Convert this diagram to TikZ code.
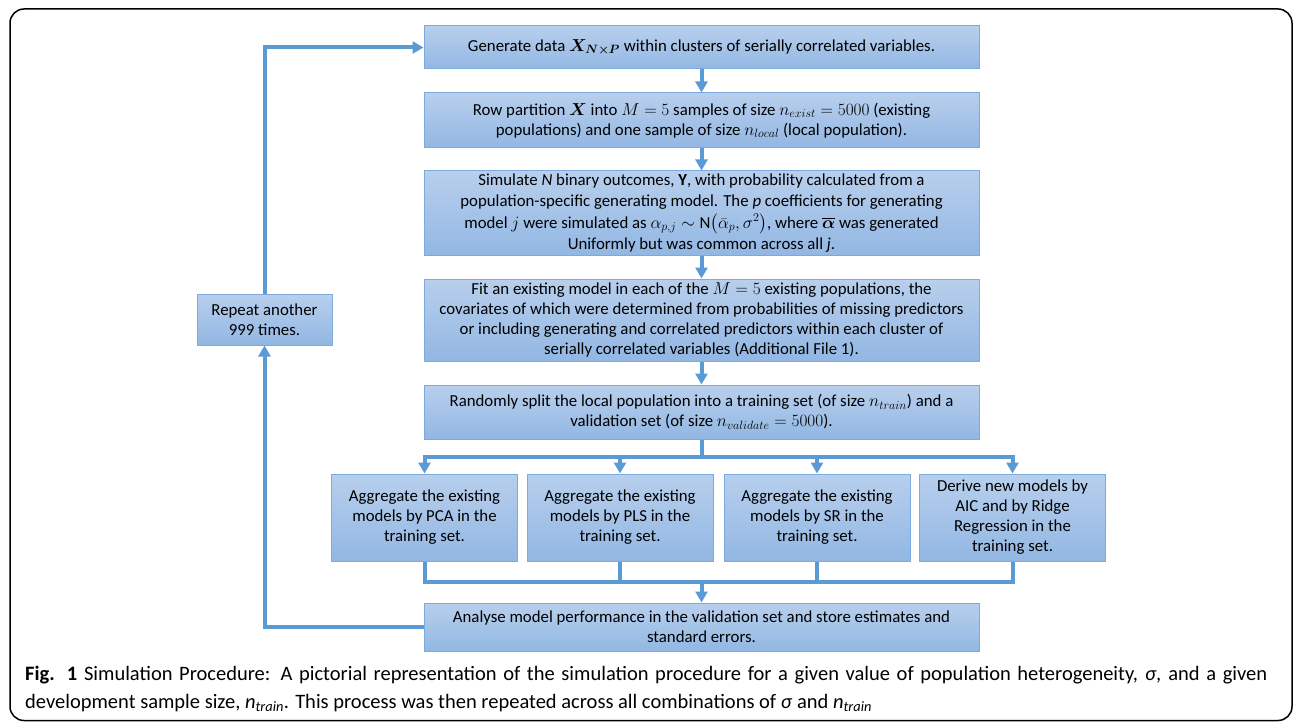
\documentclass[tikz,border=0pt]{standalone}
\usepackage{amsmath}
\usepackage{amssymb}
\usepackage{bm}
\usepackage{fontspec}
\setmainfont{Carlito}
\usetikzlibrary{arrows.meta}
\definecolor{simblue}{RGB}{91,155,213}
\definecolor{simtop}{RGB}{184,207,237}
\definecolor{simbottom}{RGB}{146,183,227}
\definecolor{simedge}{RGB}{125,170,222}

\begin{document}
\begin{tikzpicture}[x=1pt, y=-1pt,
  stepbox/.style={draw=simedge, line width=1pt, top color=simtop, bottom color=simbottom,
    align=center, inner sep=0pt, font=\fontsize{16.8}{20}\selectfont},
  flow/.style={line width=4pt, draw=simblue},
  flowarrow/.style={-{Triangle[width=12pt,length=11pt]}}]
\useasboundingbox (0,0) rectangle (1295,722);

% Frame
\draw[line width=1.5pt, rounded corners=14pt] (10,9) rectangle (1292,720.5);

% Main column
\node[stepbox, minimum width=555pt, minimum height=43pt] (gen) at (701.5,47.5) {Generate data $\bm{X}_{\bm{N\times P}}$ within clusters of serially correlated variables.};
\node[stepbox, minimum width=555pt, minimum height=55pt] (part) at (701.5,120.5) {Row partition $\bm{X}$ into $M=5$ samples of size $n_{exist}=5000$ (existing\\ populations) and one sample of size $n_{local}$ (local population).};
\node[stepbox, minimum width=555pt, minimum height=84pt, font=\fontsize{16.8}{21.5}\selectfont] (sim) at (701.5,213) {Simulate \textit{N} binary outcomes, \textbf{Y}, with probability calculated from a\\ population-specific generating model. The \textit{p} coefficients for generating\\ model $j$ were simulated as $\alpha_{p,j}\sim\mathrm{N}\bigl(\bar{\alpha}_p,\sigma^2\bigr)$, where $\overline{\bm{\alpha}}$ was generated\\ Uniformly but was common across all \textit{j}.};
\node[stepbox, minimum width=555pt, minimum height=82pt] (fit) at (701.5,320) {Fit an existing model in each of the $M=5$ existing populations, the\\ covariates of which were determined from probabilities of missing predictors\\ or including generating and correlated predictors within each cluster of\\ serially correlated variables (Additional File 1).};
\node[stepbox, minimum width=555pt, minimum height=54pt] (split) at (701.5,412) {Randomly split the local population into a training set (of size $n_{train}$) and a\\ validation set (of size $n_{validate}=5000$).};

% Four methods
\node[stepbox, minimum width=186pt, minimum height=87pt] (pca) at (424.5,517.5) {Aggregate the existing\\ models by PCA in the\\ training set.};
\node[stepbox, minimum width=186pt, minimum height=87pt] (pls) at (620,517.5) {Aggregate the existing\\ models by PLS in the\\ training set.};
\node[stepbox, minimum width=186pt, minimum height=87pt] (sr) at (817,517.5) {Aggregate the existing\\ models by SR in the\\ training set.};
\node[stepbox, minimum width=186pt, minimum height=87pt] (derive) at (1012.5,517.5) {Derive new models by\\ AIC and by Ridge\\ Regression in the\\ training set.};

\node[stepbox, minimum width=555pt, minimum height=48pt] (analyse) at (701.5,627) {Analyse model performance in the validation set and store estimates and\\ standard errors.};

% Loop box
\node[stepbox, minimum width=135pt, minimum height=51pt] (repeat) at (264.5,319.5) {Repeat another\\ 999 times.};

% Arrows
\draw[flow, flowarrow] (gen) -- (part);
\draw[flow, flowarrow] (part) -- (sim);
\draw[flow, flowarrow] (sim) -- (fit);
\draw[flow, flowarrow] (fit) -- (split);

\coordinate (branch) at (701.5,457);
\coordinate (merge) at (701.5,582);
\draw[flow] (split) -- (branch);
\draw[flow, line cap=rect] (pca.north |- branch) -- (derive.north |- branch);
\foreach \m in {pca,pls,sr,derive}
  \draw[flow, flowarrow] (\m.north |- branch) -- (\m.north);

\draw[flow, line cap=rect] (pca.south |- merge) -- (derive.south |- merge);
\foreach \m in {pca,pls,sr,derive}
  \draw[flow] (\m.south) -- (\m.south |- merge);
\draw[flow, flowarrow] (merge) -- (analyse);

% Repeat loop
\draw[flow, flowarrow] (analyse.west) -| (repeat.south);
\draw[flow, flowarrow] (repeat.north) |- (gen.west);

% Caption
\node[anchor=north west, inner sep=0pt, text width=1242pt, align=justify,
  font=\fontsize{20.5}{28}\selectfont] (caption) at (25,666)
  {\textbf{Fig. 1} Simulation Procedure: A pictorial representation of the simulation procedure for a given value of population heterogeneity, \textit{σ}, and a given\linebreak development sample size, \textit{n}\textsubscript{\textit{train}}. This process was then repeated across all combinations of \textit{σ} and \textit{n}\textsubscript{\textit{train}}};
\end{tikzpicture}
\end{document}
